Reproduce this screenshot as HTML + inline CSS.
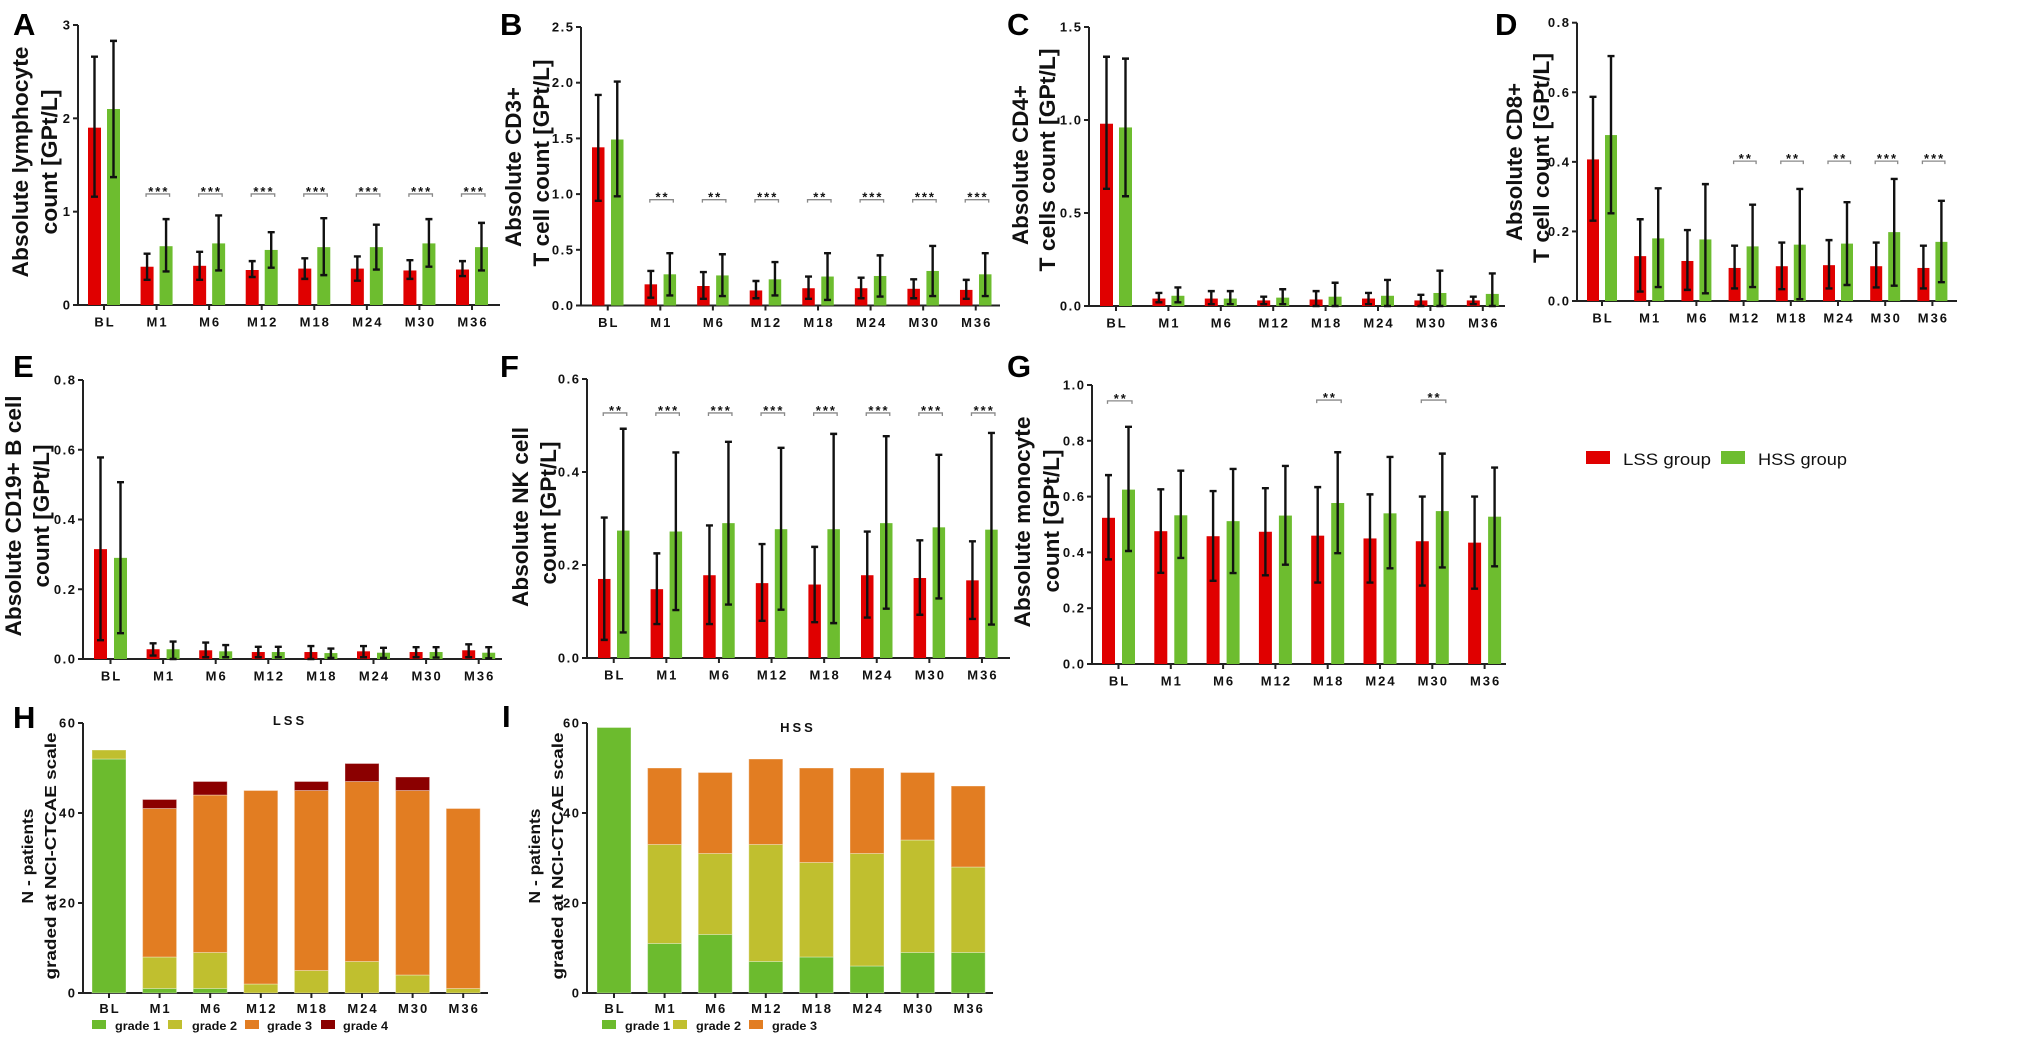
<!DOCTYPE html>
<html><head><meta charset="utf-8">
<style>
html,body{margin:0;padding:0;background:#fff;}
svg{display:block;}
text{font-family:"Liberation Sans",Arial,sans-serif;}
</style></head>
<body>
<svg id="s" xmlns="http://www.w3.org/2000/svg" width="2020" height="1038" viewBox="0 0 2020 1038"><rect x="0" y="0" width="2020" height="1038" fill="#fff"/></svg>
<script>
const NS="http://www.w3.org/2000/svg";
const svg=document.getElementById('s');
function el(tag,attrs,t){const e=document.createElementNS(NS,tag);for(const k in attrs)e.setAttribute(k,attrs[k]);if(t!==undefined)e.textContent=t;svg.appendChild(e);return e;}
const RED="#e00000",GREEN="#6dbd2f",AX="#222";
const XL=["BL","M1","M6","M12","M18","M24","M30","M36"];
function txt(x,y,s,o){o=o||{};const a={x:x,y:y,'font-size':o.fs||12,'font-weight':o.fw||'bold','text-anchor':o.anchor||'start',fill:o.fill||'#111'};if(o.ls)a['letter-spacing']=o.ls;if(o.len){a.textLength=o.len;a.lengthAdjust='spacingAndGlyphs';}return el('text',a,s);}
function vtitle(cx,cy,s,fs,len){el('text',{x:0,y:0,transform:'translate('+cx+','+cy+') rotate(-90)','font-size':fs,'font-weight':'bold','text-anchor':'middle',fill:'#111',textLength:len,lengthAdjust:'spacingAndGlyphs'},s);}
function letter(x,y,s){txt(x,y,s,{fs:31,fill:'#000'});}

function axes(p){
  const sc=v=>p.y0-(v/p.vmax)*(p.y0-p.yTop);
  el('line',{x1:p.ax,y1:p.yTop,x2:p.ax,y2:p.y0+1,stroke:AX,'stroke-width':2});
  el('line',{x1:p.ax-1,y1:p.y0,x2:p.xEnd,y2:p.y0,stroke:AX,'stroke-width':2});
  p.ticks.forEach(t=>{const y=sc(t);el('line',{x1:p.ax-5,y1:y,x2:p.ax,y2:y,stroke:AX,'stroke-width':2});txt(p.ax-6.5,y+4.5,p.fmt(t),{fs:13,anchor:'end',ls:1.5});});
  return sc;
}
function errbar(x,y1,y2){
  el('path',{d:'M'+x+' '+y1+'V'+y2+'M'+(x-3.5)+' '+y1+'H'+(x+3.5)+'M'+(x-3.5)+' '+y2+'H'+(x+3.5),stroke:'#111','stroke-width':2.4,fill:'none'});
}
function panel(p){
  const sc=axes(p);
  p.data.forEach((d,i)=>{
    const xr=p.x0+i*p.step, xg=xr+p.gOff;
    el('rect',{x:xr,y:sc(d[0]),width:p.bw,height:p.y0-sc(d[0]),fill:RED});
    el('rect',{x:xg,y:sc(d[3]),width:p.bw,height:p.y0-sc(d[3]),fill:GREEN});
    errbar(xr+p.bw/2,sc(d[1]),sc(d[2]));
    errbar(xg+p.bw/2,sc(d[4]),sc(d[5]));
    const cx=xr+(p.gOff+p.bw)/2;
    el('line',{x1:cx,y1:p.y0,x2:cx,y2:p.y0+5,stroke:AX,'stroke-width':2});
    txt(cx+1,p.y0+21.5,XL[i],{fs:13,anchor:'middle',ls:2});
  });
  (p.stars||[]).forEach(s=>{
    const i=s[0],xr=p.x0+i*p.step,xg=xr+p.gOff;
    const x1=xr+p.bw/2-1,x2=xg+p.bw/2+3.5,y=sc(s[2]);
    el('path',{d:'M'+x1+' '+(y+3)+'V'+y+'H'+x2+'V'+(y+3),stroke:'#888','stroke-width':1.3,fill:'none'});
    txt((x1+x2)/2+1,y+2,s[1],{fs:13,anchor:'middle',ls:2});
  });
}
const f1=t=>t.toFixed(1), f0=t=>String(t);

// A
panel({ax:78,y0:305,yTop:25,vmax:3,ticks:[0,1,2,3],fmt:f0,x0:88,step:52.57,bw:13,gOff:19,xEnd:500,
data:[[1.90,1.16,2.66,2.10,1.37,2.83],[0.41,0.27,0.55,0.63,0.36,0.92],[0.42,0.27,0.57,0.66,0.37,0.96],[0.375,0.30,0.47,0.59,0.40,0.78],[0.39,0.28,0.50,0.62,0.32,0.93],[0.39,0.26,0.52,0.62,0.38,0.86],[0.37,0.28,0.48,0.66,0.41,0.92],[0.38,0.31,0.47,0.62,0.37,0.88]],
stars:[[1,'***',1.19],[2,'***',1.19],[3,'***',1.19],[4,'***',1.19],[5,'***',1.19],[6,'***',1.19],[7,'***',1.19]]});
letter(13,35,'A');
vtitle(28,162,'Absolute lymphocyte',22,231);vtitle(57,162,'count [GPt/L]',22,145);

// B
panel({ax:581,y0:305.5,yTop:27,vmax:2.5,ticks:[0,0.5,1,1.5,2,2.5],fmt:f1,x0:592,step:52.57,bw:12.5,gOff:19,xEnd:1000,
data:[[1.42,0.94,1.89,1.49,0.98,2.01],[0.19,0.07,0.31,0.28,0.09,0.47],[0.175,0.06,0.30,0.27,0.085,0.46],[0.135,0.065,0.22,0.235,0.09,0.39],[0.155,0.06,0.26,0.26,0.05,0.47],[0.155,0.065,0.25,0.265,0.08,0.45],[0.15,0.065,0.235,0.31,0.085,0.535],[0.14,0.06,0.23,0.28,0.085,0.47]],
stars:[[1,'**',0.95],[2,'**',0.95],[3,'***',0.95],[4,'**',0.95],[5,'***',0.95],[6,'***',0.95],[7,'***',0.95]]});
letter(500,35,'B');
vtitle(521,167,'Absolute CD3+',22,160);vtitle(549,163,'T cell count [GPt/L]',22,207);

// C
panel({ax:1089,y0:306,yTop:27,vmax:1.5,ticks:[0,0.5,1,1.5],fmt:f1,x0:1100,step:52.4,bw:13,gOff:19,xEnd:1505,
data:[[0.98,0.63,1.34,0.96,0.59,1.33],[0.04,0.02,0.07,0.055,0.02,0.10],[0.04,0.01,0.08,0.04,0.01,0.08],[0.03,0.01,0.05,0.045,0.01,0.09],[0.035,0.0,0.08,0.05,0.0,0.125],[0.04,0.01,0.07,0.055,0.0,0.14],[0.03,0.0,0.06,0.07,0.0,0.19],[0.03,0.01,0.05,0.065,0.0,0.175]]});
letter(1007,35,'C');
vtitle(1028,165,'Absolute CD4+',22,160);vtitle(1055,160,'T cells count [GPt/L]',22,223);

// D
panel({ax:1577,y0:301,yTop:22.7,vmax:0.8,ticks:[0,0.2,0.4,0.6,0.8],fmt:f1,x0:1587,step:47.2,bw:12,gOff:18,xEnd:1957,
data:[[0.407,0.231,0.587,0.477,0.252,0.704],[0.129,0.027,0.235,0.18,0.04,0.324],[0.115,0.032,0.204,0.177,0.022,0.336],[0.095,0.036,0.159,0.157,0.04,0.277],[0.10,0.034,0.168,0.162,0.005,0.322],[0.103,0.036,0.175,0.165,0.046,0.284],[0.10,0.039,0.168,0.198,0.044,0.351],[0.095,0.036,0.159,0.17,0.054,0.288]],
stars:[[3,'**',0.402],[4,'**',0.402],[5,'**',0.402],[6,'***',0.402],[7,'***',0.402]]});
letter(1495,35,'D');
vtitle(1522,162,'Absolute CD8+',22,158);vtitle(1549,158,'T cell count [GPt/L]',22,210);

// E
panel({ax:83,y0:659,yTop:380,vmax:0.8,ticks:[0,0.2,0.4,0.6,0.8],fmt:f1,x0:94,step:52.6,bw:13,gOff:20,xEnd:502,
data:[[0.315,0.054,0.578,0.29,0.074,0.507],[0.028,0.01,0.045,0.028,0.0,0.05],[0.025,0.005,0.047,0.022,0.005,0.04],[0.02,0.005,0.035,0.02,0.005,0.035],[0.02,0.0,0.037,0.017,0.003,0.03],[0.022,0.005,0.037,0.018,0.003,0.032],[0.02,0.005,0.034,0.02,0.004,0.034],[0.025,0.005,0.042,0.018,0.002,0.034]]});
letter(13,377,'E');
vtitle(21,516,'Absolute CD19+ B cell',22,241);vtitle(49,516,'count [GPt/L]',22,143);

// F
panel({ax:587,y0:658,yTop:379,vmax:0.6,ticks:[0,0.2,0.4,0.6],fmt:f1,x0:598,step:52.6,bw:12.5,gOff:19,xEnd:1010,
data:[[0.17,0.039,0.302,0.274,0.055,0.493],[0.148,0.073,0.225,0.272,0.103,0.442],[0.178,0.073,0.285,0.29,0.115,0.465],[0.161,0.08,0.245,0.277,0.104,0.452],[0.158,0.077,0.239,0.277,0.075,0.482],[0.178,0.087,0.272,0.29,0.106,0.477],[0.172,0.093,0.253,0.281,0.128,0.437],[0.167,0.084,0.251,0.276,0.072,0.484]],
stars:[[0,'**',0.527],[1,'***',0.527],[2,'***',0.527],[3,'***',0.527],[4,'***',0.527],[5,'***',0.527],[6,'***',0.527],[7,'***',0.527]]});
letter(500,377,'F');
vtitle(528,517,'Absolute NK cell',22,180);vtitle(556,513,'count [GPt/L]',22,143);

// G
panel({ax:1092,y0:664,yTop:385,vmax:1.0,ticks:[0,0.2,0.4,0.6,0.8,1.0],fmt:f1,x0:1102,step:52.3,bw:13,gOff:20,xEnd:1506,
data:[[0.524,0.375,0.677,0.625,0.405,0.85],[0.476,0.327,0.626,0.533,0.38,0.693],[0.458,0.298,0.62,0.512,0.326,0.699],[0.474,0.318,0.63,0.532,0.356,0.71],[0.46,0.292,0.634,0.577,0.397,0.759],[0.45,0.292,0.608,0.54,0.343,0.742],[0.44,0.281,0.6,0.548,0.346,0.754],[0.435,0.27,0.6,0.528,0.35,0.704]],
stars:[[0,'**',0.943],[4,'**',0.946],[6,'**',0.946]]});
letter(1007,377,'G');
vtitle(1030,522,'Absolute monocyte',22,211);vtitle(1059,521,'count [GPt/L]',22,143);

// main legend
el('rect',{x:1586,y:451,width:24,height:13,fill:RED});
txt(1623,465,'LSS group',{fs:17,fw:'normal',len:88});
el('rect',{x:1721,y:451,width:24,height:13,fill:GREEN});
txt(1758,465,'HSS group',{fs:17,fw:'normal',len:89});

// stacked panels
const SC=["#6cbb2e","#c0bf2f","#e27d22","#8b0000"];
function stacked(p){
  const sc=axes(p);
  p.data.forEach((d,i)=>{
    const x=p.x0+i*p.step;
    let prev=0;
    d.forEach((v,k)=>{
      if(v>prev){el('rect',{x:x,y:sc(v),width:p.bw,height:sc(prev)-sc(v),fill:SC[k],stroke:'rgba(255,255,255,0.35)','stroke-width':1});}
      prev=Math.max(prev,v);
    });
    const cx=x+p.bw/2;
    el('line',{x1:cx,y1:p.y0,x2:cx,y2:p.y0+5,stroke:AX,'stroke-width':2});
    txt(cx+1,p.y0+20,XL[i],{fs:13,anchor:'middle',ls:2});
  });
}
stacked({ax:83,y0:993,yTop:723,vmax:60,ticks:[0,20,40,60],fmt:f0,x0:92,step:50.6,bw:34,xEnd:488,
data:[[52,54,54,54],[1,8,41,43],[1,9,44,47],[0,2,45,45],[0,5,45,47],[0,7,47,51],[0,4,45,48],[0,1,41,41]]});
letter(13,728,'H');
txt(290,725,'LSS',{fs:13,anchor:'middle',ls:3});
vtitle(33,856,'N - patients',16,95);vtitle(56,856,'graded at NCI-CTCAE scale',16,247);
[[92,115,'grade 1',0],[168,192,'grade 2',1],[245,267,'grade 3',2],[321,343,'grade 4',3]].forEach(l=>{
  el('rect',{x:l[0],y:1020,width:14,height:9,fill:SC[l[3]]});
  txt(l[1],1030,l[2],{fs:12,len:45});
});

stacked({ax:587,y0:993,yTop:723,vmax:60,ticks:[0,20,40,60],fmt:f0,x0:597,step:50.6,bw:34,xEnd:993,
data:[[59,59,59],[11,33,50],[13,31,49],[7,33,52],[8,29,50],[6,31,50],[9,34,49],[9,28,46]]});
letter(502,727,'I');
txt(798,732,'HSS',{fs:13,anchor:'middle',ls:3});
vtitle(540,856,'N - patients',16,95);vtitle(563,856,'graded at NCI-CTCAE scale',16,247);
[[602,625,'grade 1',0],[673,696,'grade 2',1],[749,772,'grade 3',2]].forEach(l=>{
  el('rect',{x:l[0],y:1020,width:14,height:9,fill:SC[l[3]]});
  txt(l[1],1030,l[2],{fs:12,len:45});
});
</script>
</body></html>
